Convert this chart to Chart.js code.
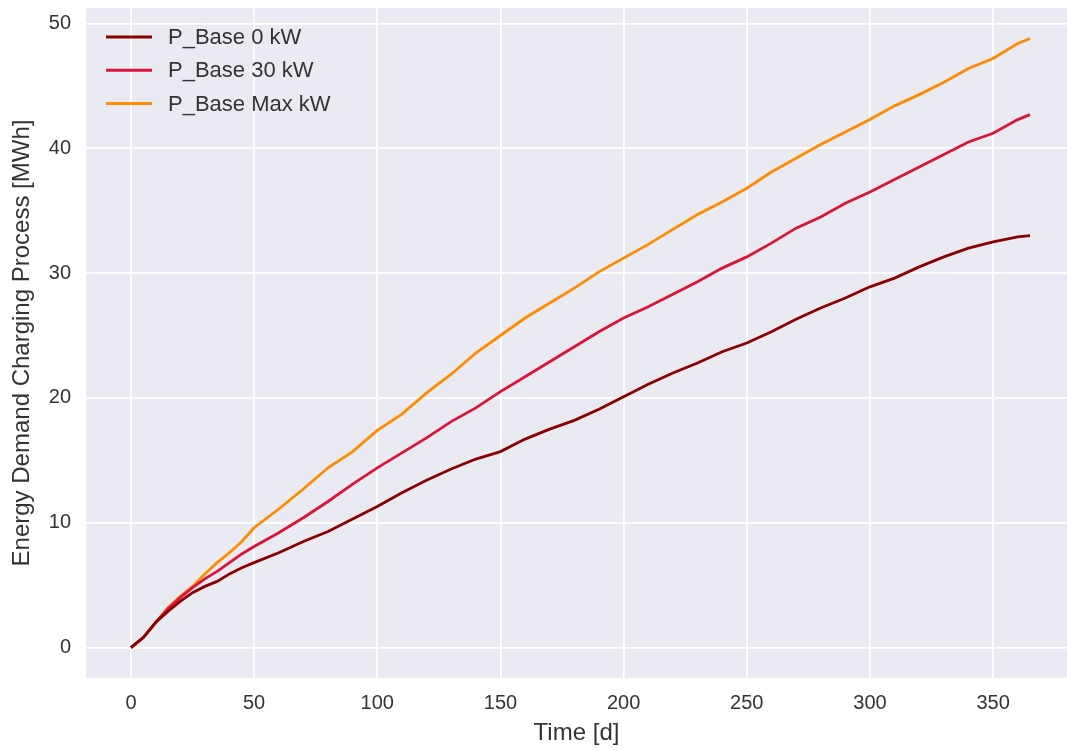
<!DOCTYPE html>
<html>
<head>
<meta charset="utf-8">
<script src="https://cdn.jsdelivr.net/npm/chart.js@4"></script>
<style>
  html, body { margin: 0; padding: 0; background: #fff; overflow: hidden; }
  #wrap { width: 1067px; height: 751px; }
</style>
</head>
<body>
<div id="wrap"><canvas id="myChart" width="1067" height="751"></canvas></div>
<script>
// time axis in days, values in MWh
const days = [0, 5, 10, 15, 20, 25, 30, 35, 40, 45, 50,
  60, 70, 80, 90, 100, 110, 120, 130, 140, 150, 160, 170, 180, 190, 200,
  210, 220, 230, 240, 250, 260, 270, 280, 290, 300,
  310, 320, 330, 340, 350, 360, 365];

const base0 = [0, 0.8, 2.0, 2.9, 3.7, 4.4, 4.9, 5.3, 5.9, 6.4, 6.8,
  7.6, 8.5, 9.3, 10.3, 11.3, 12.4, 13.4, 14.3, 15.1, 15.7, 16.7, 17.5, 18.2, 19.1, 20.1,
  21.1, 22.0, 22.8, 23.7, 24.4, 25.3, 26.3, 27.2, 28.0, 28.9,
  29.6, 30.5, 31.3, 32.0, 32.5, 32.9, 33.0];

const base30 = [0, 0.8, 2.0, 3.1, 4.0, 4.8, 5.5, 6.1, 6.8, 7.5, 8.1,
  9.2, 10.4, 11.7, 13.1, 14.4, 15.6, 16.8, 18.1, 19.2, 20.5, 21.7, 22.9, 24.1, 25.3, 26.4,
  27.3, 28.3, 29.3, 30.4, 31.3, 32.4, 33.6, 34.5, 35.6, 36.5,
  37.5, 38.5, 39.5, 40.5, 41.2, 42.3, 42.7];

const baseMax = [0, 0.8, 2.0, 3.2, 4.1, 4.9, 5.9, 6.8, 7.6, 8.5, 9.6,
  11.1, 12.7, 14.4, 15.7, 17.4, 18.7, 20.4, 21.9, 23.6, 25.0, 26.4, 27.6, 28.8, 30.1, 31.2,
  32.3, 33.5, 34.7, 35.7, 36.8, 38.1, 39.2, 40.3, 41.3, 42.3,
  43.4, 44.3, 45.3, 46.4, 47.2, 48.4, 48.8];

const seriesNames = ['P_Base 0 kW', 'P_Base 30 kW', 'P_Base Max kW'];
const xTicks = [0, 50, 100, 150, 200, 250, 300, 350];
const yTicks = [0, 10, 20, 30, 40, 50];

const FONT = '"Liberation Sans", Arial, sans-serif';
const TEXT = '#333333';
Chart.defaults.font.family = FONT;

function toPoints(vals) {
  return days.map((d, i) => ({ x: d, y: vals[i] }));
}

// grey plot background like seaborn darkgrid
const bgPlugin = {
  id: 'bg',
  beforeDraw(chart) {
    const a = chart.chartArea;
    const ctx = chart.ctx;
    ctx.save();
    ctx.fillStyle = '#EAEAF2';
    ctx.fillRect(a.left, a.top, a.right - a.left, a.bottom - a.top);
    ctx.restore();
  }
};

// legend stacked in the upper left corner of the axes
const innerLegend = {
  id: 'innerLegend',
  afterDatasetsDraw(chart) {
    const a = chart.chartArea;
    const ctx = chart.ctx;
    ctx.save();
    chart.data.datasets.forEach((ds, i) => {
      const y = a.top + 29 + i * 33.3;
      ctx.strokeStyle = ds.borderColor;
      ctx.lineWidth = 3;
      ctx.beginPath();
      ctx.moveTo(a.left + 20, y);
      ctx.lineTo(a.left + 66, y);
      ctx.stroke();
      ctx.fillStyle = TEXT;
      ctx.font = '22px ' + FONT;
      ctx.textBaseline = 'middle';
      ctx.fillText(ds.label, a.left + 82, y + 1);
    });
    ctx.restore();
  }
};

const ctx = document.getElementById('myChart').getContext('2d');
const chart = new Chart(ctx, {
  type: 'line',
  data: {
    datasets: [
      { label: seriesNames[0], data: toPoints(base0), borderColor: '#8B0000' },
      { label: seriesNames[1], data: toPoints(base30), borderColor: '#DC143C' },
      { label: seriesNames[2], data: toPoints(baseMax), borderColor: '#FF8C00' }
    ]
  },
  options: {
    responsive: false,
    animation: false,
    layout: { padding: { top: 8, right: 0, left: 0, bottom: 0 } },
    elements: {
      line: { borderWidth: 2.8, tension: 0, fill: false },
      point: { radius: 0 }
    },
    plugins: { legend: { display: false }, tooltip: { enabled: false } },
    scales: {
      x: {
        type: 'linear',
        min: -18.25,
        max: 380,
        afterFit(s) { s.height = 73; s.paddingLeft = 0; s.paddingRight = 0; },
        afterBuildTicks(s) { s.ticks = xTicks.map(v => ({ value: v })); },
        ticks: { color: TEXT, font: { size: 20 }, padding: 13, includeBounds: false },
        grid: { color: '#ffffff', lineWidth: 1.8, drawTicks: false },
        border: { display: false },
        title: { display: true, text: 'Time [d]', color: TEXT, font: { size: 24 }, padding: { top: 0, bottom: 3 } }
      },
      y: {
        min: -2.44,
        max: 51.24,
        afterFit(s) { s.width = 86; s.paddingTop = 0; s.paddingBottom = 0; },
        afterBuildTicks(s) { s.ticks = yTicks.map(v => ({ value: v })); },
        ticks: { color: TEXT, font: { size: 20 }, padding: 15, includeBounds: false },
        grid: { color: '#ffffff', lineWidth: 1.8, drawTicks: false },
        border: { display: false },
        title: { display: true, text: 'Energy Demand Charging Process [MWh]', color: TEXT, font: { size: 24 }, padding: { top: 8, bottom: 0 } }
      }
    }
  },
  plugins: [bgPlugin, innerLegend]
});
</script>
</body>
</html>
